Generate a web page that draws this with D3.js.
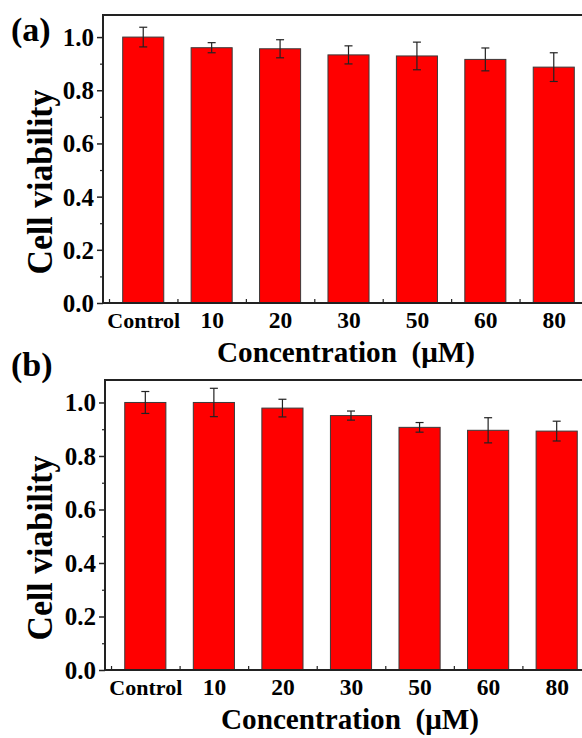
<!DOCTYPE html>
<html>
<head>
<meta charset="utf-8">
<script src="https://cdn.jsdelivr.net/npm/d3@7/dist/d3.min.js"></script>
<style>
  html, body { margin: 0; padding: 0; background: #fff; }
  svg { display: block; }
  text { font-family: "Liberation Serif", "Times New Roman", serif; font-weight: bold; fill: #000; white-space: pre; }
</style>
</head>
<body>
<svg id="chart" width="582" height="738"></svg>
<script>
// ---- Data ----
const categories = ["Control", "10", "20", "30", "50", "60", "80"];
const viabilityA = [1.000, 0.960, 0.956, 0.933, 0.929, 0.916, 0.887];
const errorA     = [0.037, 0.019, 0.034, 0.034, 0.052, 0.043, 0.054];
const viabilityB = [1.000, 1.000, 0.979, 0.951, 0.907, 0.896, 0.893];
const errorB     = [0.041, 0.053, 0.033, 0.017, 0.018, 0.047, 0.037];
const yMajorTicks = [0.0, 0.2, 0.4, 0.6, 0.8, 1.0];
const yMinorTicks = [0.1, 0.3, 0.5, 0.7, 0.9];
const panelLabels = ["(a)", "(b)"];
const xTitle = "Concentration\u00A0\u00A0(\u03BCM)";
const yTitle = "Cell viability";

const svg = d3.select("#chart");

function drawPanel(cfg) {
  const g = svg.append("g");
  const n = categories.length;
  const x = d3.scaleLinear().domain([-0.588, n - 1 + 0.588]).range([cfg.left, cfg.right]);
  const y = d3.scaleLinear().domain([0, cfg.yMax]).range([cfg.bottom, cfg.top]);
  const barW = (x(1) - x(0)) * 0.6;

  // bars
  g.selectAll("rect.bar").data(cfg.values).join("rect")
    .attr("class", "bar")
    .attr("x", (d, i) => x(i) - barW / 2)
    .attr("y", d => y(d))
    .attr("width", barW)
    .attr("height", d => y(0) - y(d))
    .attr("fill", "#ff0000")
    .attr("stroke", "#3a3a3a")
    .attr("stroke-width", 1);

  // error bars
  const eb = g.selectAll("g.err").data(cfg.values.map((v, i) => ({ v, e: cfg.errors[i], i }))).join("g").attr("class", "err")
    .attr("stroke", "#222").attr("stroke-width", 1.2);
  eb.append("line").attr("x1", d => x(d.i)).attr("x2", d => x(d.i))
    .attr("y1", d => y(d.v + d.e)).attr("y2", d => y(d.v - d.e));
  eb.append("line").attr("x1", d => x(d.i) - 4).attr("x2", d => x(d.i) + 4)
    .attr("y1", d => y(d.v + d.e)).attr("y2", d => y(d.v + d.e));
  eb.append("line").attr("x1", d => x(d.i) - 4).attr("x2", d => x(d.i) + 4)
    .attr("y1", d => y(d.v - d.e)).attr("y2", d => y(d.v - d.e));

  // y axis (major)
  const yAxis = d3.axisLeft(y).tickValues(yMajorTicks).tickFormat(d3.format(".1f")).tickSize(6).tickPadding(3);
  const ya = g.append("g").attr("transform", `translate(${cfg.left},0)`).call(yAxis);
  ya.select(".domain").remove();
  ya.selectAll(".tick line").attr("stroke", "#222").attr("stroke-width", 1.5);
  ya.selectAll(".tick text").style("font-size", "25px").attr("dy", "0.34em").attr("fill", "#000");
  // y minor
  const ym = g.append("g").attr("transform", `translate(${cfg.left},0)`)
    .call(d3.axisLeft(y).tickValues(yMinorTicks).tickFormat("").tickSize(3));
  ym.select(".domain").remove();
  ym.selectAll(".tick line").attr("stroke", "#222").attr("stroke-width", 1.2);

  // x axis: labels at category centers (no ticks), minor inward ticks at boundaries
  const xa = g.append("g").attr("transform", `translate(0,${cfg.bottom})`)
    .call(d3.axisBottom(x).tickValues(d3.range(n)).tickFormat(i => categories[i]).tickSize(0).tickPadding(9));
  xa.select(".domain").remove();
  xa.selectAll(".tick text").style("font-size", d => d === 0 ? "22px" : "23.5px").attr("fill", "#000")
    .attr("dy", d => d === 0 ? "0.74em" : "0.70em");
  const xm = g.append("g").attr("transform", `translate(0,${cfg.bottom})`)
    .call(d3.axisBottom(x).tickValues(d3.range(n).map(i => i - 0.5)).tickFormat("").tickSize(-4));
  xm.select(".domain").remove();
  xm.selectAll(".tick line").attr("stroke", "#222").attr("stroke-width", 1.2);

  // frame
  g.append("path")
    .attr("d", `M${cfg.right},${cfg.top}H${cfg.left}V${cfg.bottom}H${cfg.right}`)
    .attr("fill", "none").attr("stroke", "#222").attr("stroke-width", 2);

  // titles
  g.append("text").attr("x", cfg.xTitleX).attr("y", cfg.xTitleY)
    .attr("text-anchor", "middle").style("font-size", "30px")
    .attr("textLength", 258).attr("lengthAdjust", "spacingAndGlyphs").text(xTitle);
  g.append("text")
    .attr("transform", `translate(${cfg.yTitleX},${(cfg.top + cfg.bottom) / 2 + 23}) rotate(-90)`)
    .attr("text-anchor", "middle").style("font-size", "35px")
    .attr("textLength", 185).attr("lengthAdjust", "spacingAndGlyphs").text(yTitle);
  g.append("text").attr("x", 11).attr("y", cfg.labelY).style("font-size", "34px").text(cfg.label);
}

drawPanel({ values: viabilityA, errors: errorA, left: 103, right: 594, top: 15, bottom: 303, yMax: 1.083,
  xTitleX: 346, xTitleY: 362, yTitleX: 52, labelY: 41, label: panelLabels[0] });
drawPanel({ values: viabilityB, errors: errorB, left: 105, right: 597, top: 380, bottom: 670, yMax: 1.084,
  xTitleX: 350, xTitleY: 729, yTitleX: 52, labelY: 376, label: panelLabels[1] });
</script>
</body>
</html>
